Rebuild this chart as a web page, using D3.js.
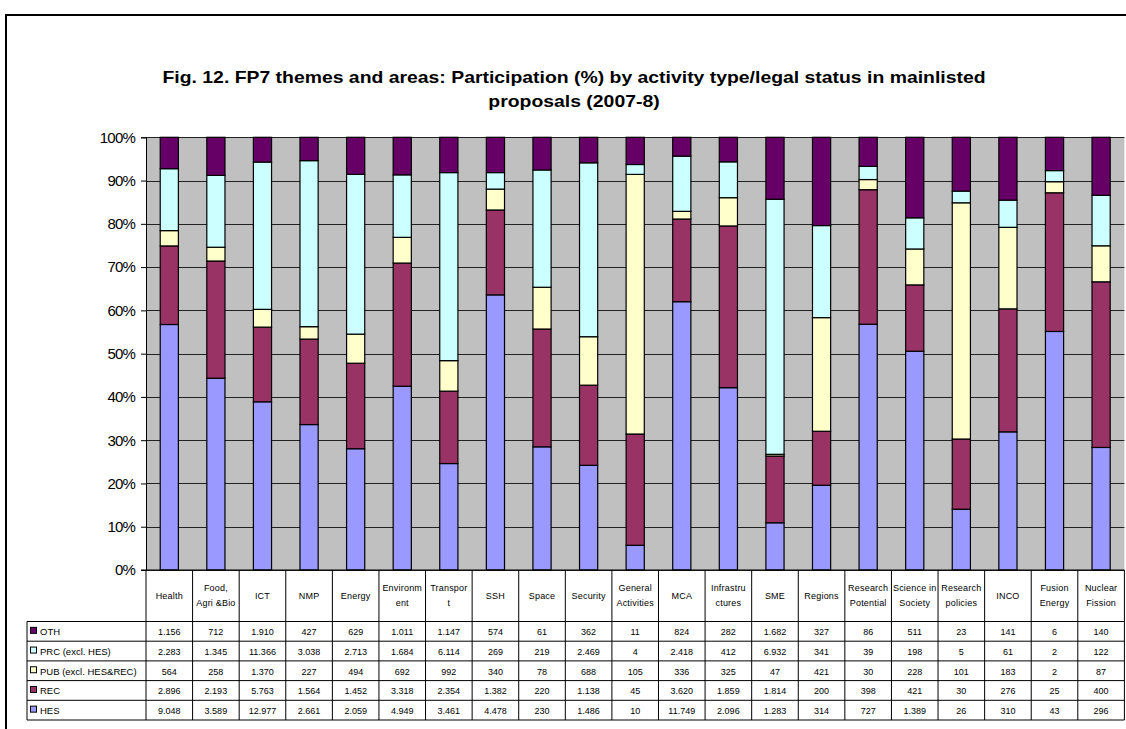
<!DOCTYPE html>
<html>
<head>
<meta charset="utf-8">
<script src="https://cdn.jsdelivr.net/npm/d3@7"></script>
<style>
  body { margin: 0; background: #fff; }
  text { font-family: "Liberation Sans", Arial, sans-serif; }
</style>
</head>
<body>
<div id="chart"></div>
<script>
// Categories (themes / areas) with the line breaks used in the table header
var categories = ["Health", "Food, Agri &Bio", "ICT", "NMP", "Energy", "Environment", "Transport",
  "SSH", "Space", "Security", "General Activities", "MCA", "Infrastructures", "SME", "Regions",
  "Research Potential", "Science in Society", "Research policies", "INCO", "Fusion Energy", "Nuclear Fission"];
var categoryLines = [["Health"], ["Food,", "Agri &Bio"], ["ICT"], ["NMP"], ["Energy"], ["Environm", "ent"],
  ["Transpor", "t"], ["SSH"], ["Space"], ["Security"], ["General", "Activities"], ["MCA"],
  ["Infrastru", "ctures"], ["SME"], ["Regions"], ["Research", "Potential"], ["Science in", "Society"],
  ["Research", "policies"], ["INCO"], ["Fusion", "Energy"], ["Nuclear", "Fission"]];

// Participation counts per type
var OTH = [1156, 712, 1910, 427, 629, 1011, 1147, 574, 61, 362, 11, 824, 282, 1682, 327, 86, 511, 23, 141, 6, 140];
var PRC = [2283, 1345, 11366, 3038, 2713, 1684, 6114, 269, 219, 2469, 4, 2418, 412, 6932, 341, 39, 198, 5, 61, 2, 122];
var PUB = [564, 258, 1370, 227, 494, 692, 992, 340, 78, 688, 105, 336, 325, 47, 421, 30, 228, 101, 183, 2, 87];
var REC = [2896, 2193, 5763, 1564, 1452, 3318, 2354, 1382, 220, 1138, 45, 3620, 1859, 1814, 200, 398, 421, 30, 276, 25, 400];
var HES = [9048, 3589, 12977, 2661, 2059, 4949, 3461, 4478, 230, 1486, 10, 11749, 2096, 1283, 314, 727, 1389, 26, 310, 43, 296];

// series, table order (top to bottom)
var seriesKeys = ["OTH", "PRC", "PUB", "REC", "HES"];
var seriesNames = ["OTH", "PRC (excl. HES)", "PUB (excl. HES&REC)", "REC", "HES"];
var seriesColors = ["#660066", "#CCFFFF", "#FFFFCC", "#993366", "#9999FF"];
var seriesValues = { OTH: OTH, PRC: PRC, PUB: PUB, REC: REC, HES: HES };

var yTicks = [0, 0.1, 0.2, 0.3, 0.4, 0.5, 0.6, 0.7, 0.8, 0.9, 1];

// build rows for d3.stack
var rows = categories.map(function(c, i) {
  var r = { cat: c };
  seriesKeys.forEach(function(k) { r[k] = seriesValues[k][i]; });
  return r;
});

var W = 1126, H = 729;
var svg = d3.select("#chart").append("svg")
  .attr("width", W)
  .attr("height", H);

// outer chart border (runs off the picture at right and bottom)
svg.append("rect")
  .attr("x", 6).attr("y", 15)
  .attr("width", 1300).attr("height", 900)
  .attr("fill", "none")
  .attr("stroke", "#000")
  .attr("stroke-width", 2);

// title
var title = svg.append("text")
  .attr("text-anchor", "middle")
  .attr("font-weight", "bold")
  .attr("font-size", 16.5)
  .attr("transform", "translate(574,0) scale(1.175,1)");
title.append("tspan").attr("x", 0).attr("y", 83)
  .text("Fig. 12. FP7 themes and areas: Participation (%) by activity type/legal status in mainlisted");
title.append("tspan").attr("x", 0).attr("y", 107)
  .text("proposals (2007-8)");

var plotLeft = 146, plotRight = 1124.4, plotTop = 137.3, plotBottom = 570;

var x = d3.scaleBand()
  .domain(categories)
  .range([plotLeft, plotRight])
  .paddingInner(0.61)
  .paddingOuter(0.305);

var xCol = d3.scaleBand()
  .domain(categories)
  .range([plotLeft, plotRight]);

var y = d3.scaleLinear()
  .domain([0, 1])
  .range([plotBottom, plotTop]);

// plot background
svg.append("rect")
  .attr("x", plotLeft).attr("y", plotTop)
  .attr("width", plotRight - plotLeft).attr("height", plotBottom - plotTop)
  .attr("fill", "#C0C0C0");

// gridlines
svg.append("g")
  .selectAll("line")
  .data(yTicks)
  .enter()
  .append("line")
  .attr("x1", plotLeft).attr("x2", plotRight)
  .attr("y1", function(d) { return Math.round(y(d)) + 0.5; })
  .attr("y2", function(d) { return Math.round(y(d)) + 0.5; })
  .attr("stroke", "#222")
  .attr("stroke-width", 1);

// y axis
var yAxis = svg.append("g")
  .attr("transform", "translate(" + plotLeft + ",0)")
  .call(d3.axisLeft(y).tickValues(yTicks).tickFormat(d3.format(".0%")).tickSize(5).tickPadding(6));
yAxis.select(".domain").attr("stroke", "#000");
yAxis.selectAll(".tick line").attr("stroke", "#000");
yAxis.selectAll("text")
  .attr("font-size", 15)
  .attr("letter-spacing", "-0.8px")
  .attr("fill", "#000")
  .style("font-family", "'Liberation Sans', Arial, sans-serif");

// stacked 100% bars
var stack = d3.stack()
  .keys(["HES", "REC", "PUB", "PRC", "OTH"])
  .offset(d3.stackOffsetExpand);
var stacked = stack(rows);

var colorOf = d3.scaleOrdinal().domain(seriesKeys).range(seriesColors);

svg.append("g")
  .selectAll("g")
  .data(stacked)
  .enter()
  .append("g")
  .attr("fill", function(d) { return colorOf(d.key); })
  .selectAll("rect")
  .data(function(d) { return d; })
  .enter()
  .append("rect")
  .attr("x", function(d) { return x(d.data.cat); })
  .attr("width", x.bandwidth())
  .attr("y", function(d) { return y(d[1]); })
  .attr("height", function(d) { return y(d[0]) - y(d[1]); })
  .attr("stroke", "#000")
  .attr("stroke-width", 1.2);

// axis base line
svg.append("line")
  .attr("x1", plotLeft - 5).attr("x2", plotRight)
  .attr("y1", plotBottom).attr("y2", plotBottom)
  .attr("stroke", "#000");

// data table
var tableLeft = 27, headerBottom = 621.5, rowH = 19.7;
var fmt = d3.formatLocale({ decimal: ",", thousands: ".", grouping: [3], currency: ["", "€"] }).format(",d");
var table = svg.append("g");

// horizontal lines
table.selectAll("line.h")
  .data(d3.range(seriesKeys.length + 1))
  .enter()
  .append("line")
  .attr("class", "h")
  .attr("x1", tableLeft).attr("x2", plotRight)
  .attr("y1", function(i) { return headerBottom + i * rowH; })
  .attr("y2", function(i) { return headerBottom + i * rowH; })
  .attr("stroke", "#000");

// column lines
table.selectAll("line.v")
  .data(categories)
  .enter()
  .append("line")
  .attr("class", "v")
  .attr("x1", function(d) { return xCol(d); })
  .attr("x2", function(d) { return xCol(d); })
  .attr("y1", plotBottom).attr("y2", headerBottom + seriesKeys.length * rowH)
  .attr("stroke", "#000");
table.append("line")
  .attr("x1", plotRight).attr("x2", plotRight)
  .attr("y1", plotBottom).attr("y2", headerBottom + seriesKeys.length * rowH)
  .attr("stroke", "#000");
table.append("line")
  .attr("x1", tableLeft).attr("x2", tableLeft)
  .attr("y1", headerBottom).attr("y2", headerBottom + seriesKeys.length * rowH)
  .attr("stroke", "#000");

// category headers
var headers = table.selectAll("text.cat")
  .data(categories)
  .enter()
  .append("text")
  .attr("class", "cat")
  .attr("text-anchor", "middle")
  .attr("font-size", 9)
  .attr("letter-spacing", "0.2px")
  .attr("fill", "#000");
headers.each(function(d, i) {
  var lines = categoryLines[i];
  var cx = xCol(d) + xCol.bandwidth() / 2;
  var y0 = lines.length === 1 ? 599 : 591;
  lines.forEach(function(t, j) {
    d3.select(this).append("tspan")
      .attr("x", cx)
      .attr("y", y0 + j * 14.5)
      .text(t);
  }, this);
});

// legend keys and series names
seriesKeys.forEach(function(k, r) {
  var cy = headerBottom + r * rowH + rowH / 2;
  table.append("rect")
    .attr("x", 30.5).attr("y", cy - 4)
    .attr("width", 6).attr("height", 6)
    .attr("fill", seriesColors[r])
    .attr("stroke", "#000");
  table.append("text")
    .attr("x", 40).attr("y", cy + 4)
    .attr("font-size", 9.5)
    .attr("fill", "#000")
    .text(seriesNames[r]);
  table.selectAll(null)
    .data(seriesValues[k])
    .enter()
    .append("text")
    .attr("x", function(d, i) { return xCol(categories[i]) + xCol.bandwidth() / 2; })
    .attr("y", cy + 4)
    .attr("text-anchor", "middle")
    .attr("font-size", 9)
    .attr("fill", "#000")
    .text(function(d) { return fmt(d); });
});
</script>
</body>
</html>
